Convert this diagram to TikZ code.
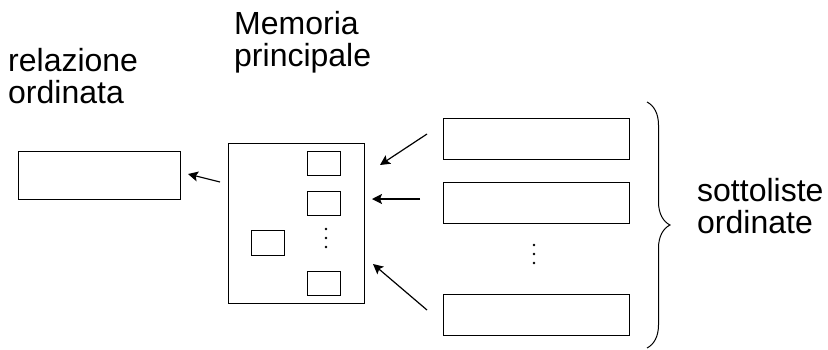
\documentclass[tikz,border=0pt]{standalone}
\usepackage{fontspec}
\setmainfont{Liberation Sans}
\usepackage{tikz}
\usetikzlibrary{arrows.meta}
\usetikzlibrary{decorations.pathreplacing}

\begin{document}
\begin{tikzpicture}[x=1pt, y=-1pt,
    caja/.style={draw, line width=1pt, inner sep=0pt},
    etiqueta/.style={inner sep=0pt, align=left, font=\fontsize{32}{32}\selectfont},
    flecha/.style={-{Stealth[length=10pt, width=10pt, inset=2pt]}, line width=1.2pt}]
            \useasboundingbox (0,0) rectangle (828,349);
            % Nodos
            \node[caja, minimum width=162pt, minimum height=48pt] (rel) at (99,175) {};
            \node[caja, minimum width=136pt, minimum height=160pt] (mem) at (296,223) {};
            \node[caja, minimum width=33pt, minimum height=24pt] (m1) at (323.5,163) {};
            \node[caja, minimum width=33pt, minimum height=24pt] (m2) at (323.5,203) {};
            \node[caja, minimum width=33pt, minimum height=24pt] (m3) at (323.5,283) {};
            \node[caja, minimum width=33pt, minimum height=25pt] (mx) at (267.5,243) {};
            \node[caja, minimum width=186pt, minimum height=41pt] (s1) at (536,138.5) {};
            \node[caja, minimum width=186pt, minimum height=41pt] (s2) at (536,202.5) {};
            \node[caja, minimum width=186pt, minimum height=41pt] (s3) at (536,314.5) {};

            % Testi
            \node[etiqueta, anchor=base west] (trel) at (8,103) {relazione\\ordinata};
            \node[etiqueta, anchor=base west] (tmem) at (234,66) {Memoria\\principale};
            \node[etiqueta, anchor=base west] (tsot) at (697,233) {sottoliste\\ordinate};

            % Flechas
            \coordinate (a0s) at (220,182);
            \coordinate (a0e) at (188,174);
            \coordinate (a1s) at (427,134);
            \coordinate (a1e) at (380,165);
            \coordinate (a2s) at (420,199);
            \coordinate (a2e) at (372,199);
            \coordinate (a3s) at (427,310);
            \coordinate (a3e) at (373,264);
            \draw[flecha] (a0s) -- (a0e);
            \draw[flecha] (a1s) -- (a1e);
            \draw[flecha] (a2s) -- (a2e);
            \draw[flecha] (a3s) -- (a3e);

            % Puntos y llave
            \foreach \y in {229,238,247} \fill (326,\y) circle (1.4pt);
            \foreach \y in {245,254,263} \fill (534,\y) circle (1.4pt);
            \coordinate (bt) at (647,102);
            \coordinate (bb) at (647,348);
            \draw[line width=1pt, decorate, decoration={brace, amplitude=23pt}] (bt) -- (bb);
          \end{tikzpicture}
\end{document}
